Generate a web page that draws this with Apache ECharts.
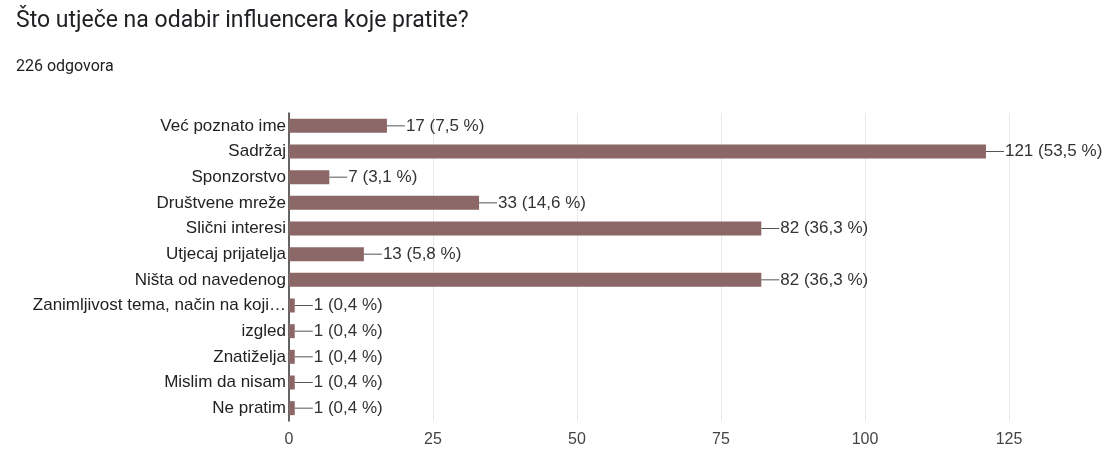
<!DOCTYPE html>
<html>
<head>
<meta charset="utf-8">
<script src="https://cdn.jsdelivr.net/npm/echarts@6/dist/echarts.min.js"></script>
<style>
html,body{margin:0;padding:0;background:#fff;}
#main{width:1112px;height:450px;}
</style>
</head>
<body>
<div id="main"></div>
<script>
var titleText = 'Što utječe na odabir influencera koje pratite?';
var subtitleText = '226 odgovora';
var categories = ['Već poznato ime','Sadržaj','Sponzorstvo','Društvene mreže','Slični interesi','Utjecaj prijatelja','Ništa od navedenog','Zanimljivost tema, način na koji…','izgled','Znatiželja','Mislim da nisam','Ne pratim'];
var counts = [17,121,7,33,82,13,82,1,1,1,1,1];
var percents = ['7,5','53,5','3,1','14,6','36,3','5,8','36,3','0,4','0,4','0,4','0,4','0,4'];
var xTicks = [0,25,50,75,100,125];

var chart = echarts.init(document.getElementById('main'), null, {renderer:'canvas'});
var font = '"Liberation Sans", Arial, sans-serif';
chart.setOption({
  animation:false,
  backgroundColor:'#fff',
  title:[
    {text:titleText,left:11,top:5,textStyle:{fontFamily:'Roboto, sans-serif',fontSize:23,fontWeight:'normal',color:'#202124'}},
    {text:subtitleText,left:11,top:54,textStyle:{fontFamily:'Roboto, sans-serif',fontSize:16,fontWeight:'normal',color:'#202124'}}
  ],
  grid:{left:289,right:103,top:113,bottom:29,containLabel:false},
  xAxis:{type:'value',min:xTicks[0],max:xTicks[xTicks.length-1],interval:25,
    axisLine:{show:false},axisTick:{show:false},
    splitLine:{show:true,lineStyle:{color:'#e8e8e8',width:1}},
    axisLabel:{fontFamily:font,fontSize:16,color:'#444',margin:11}
  },
  yAxis:{type:'category',data:categories,inverse:true,
    axisLine:{show:true,onZero:false,lineStyle:{color:'#333',width:1.5}},
    axisTick:{show:false},
    axisLabel:{fontFamily:font,fontSize:17,color:'#222',margin:3}
  },
  series:[{
    type:'bar',data:counts,barWidth:14,
    itemStyle:{color:'#8c6767'},
    label:{show:true,position:'right',distance:0,
      formatter:function(p){return '{ln| }{t|'+counts[p.dataIndex]+' ('+percents[p.dataIndex]+' %)}';},
      rich:{
        ln:{width:18,height:1,backgroundColor:'#555'},
        t:{fontFamily:font,fontSize:17,color:'#333',padding:[0,0,0,1]}
      }
    }
  }]
});
</script>
</body>
</html>
